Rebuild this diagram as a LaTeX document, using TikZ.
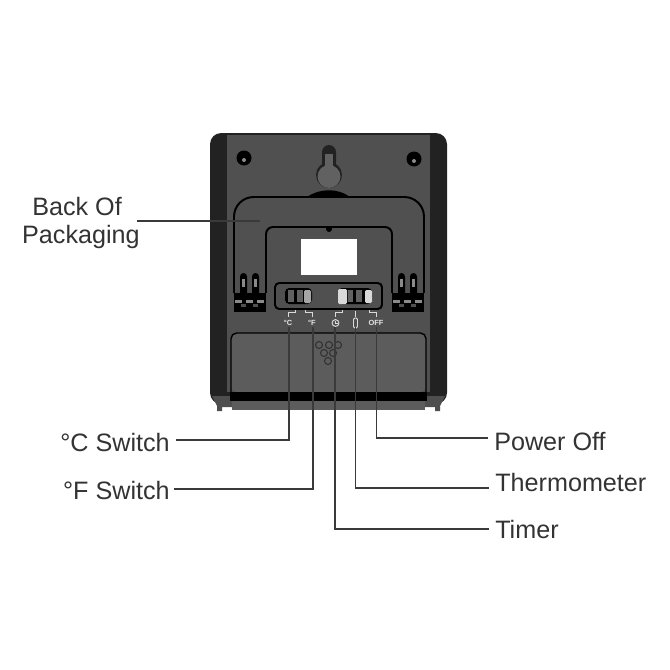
\documentclass[tikz,border=0pt]{standalone}
\usepackage{fontspec}
\setmainfont{Liberation Sans}
\usetikzlibrary{arrows,positioning}

\definecolor{casedark}{HTML}{222222}
\definecolor{casegrey}{HTML}{505050}
\definecolor{doorgrey}{HTML}{5C5C5C}
\definecolor{slotgrey}{HTML}{8A8A8A}
\definecolor{linegrey}{HTML}{3A3A3A}
\definecolor{textgrey}{HTML}{333333}

\tikzset{
  callout/.style={draw=linegrey,line width=1.4pt},
  caption/.style={font=\fontsize{17.9}{19.8}\selectfont,text=textgrey,inner sep=0pt,align=center},
  standedge/.style={draw=black,line width=1.4pt},
  printmark/.style={draw=white!85!black,line width=0.6pt},
  tinytext/.style={font=\bfseries\fontsize{5.3}{6}\selectfont,text=white!90!black,inner sep=0pt},
}

\begin{document}
\begin{tikzpicture}[x=0.025cm,y=-0.025cm]

\useasboundingbox (0,0) rectangle (670,670);

% case
\fill[casedark,rounded corners=8] (210,133) rectangle (447,404);
\fill[casedark!80!white] (212,396) -- (217,406) -- (217,411) -- (222,411) -- (222,407) -- (232,407) -- (232,396) -- cycle;
\fill[casedark!80!white] (445,396) -- (440,406) -- (440,411) -- (435,411) -- (435,407) -- (425,407) -- (425,396) -- cycle;
\fill[casegrey] (227,135) rectangle (430,392);

% screws
\fill[black] (244,158) circle (7.5);
\fill[black] (414,159) circle (7.5);
\fill[slotgrey] (244,160) circle (2);
\fill[slotgrey] (414,161) circle (2);

% keyhole
\fill[casedark,rounded corners=5] (322,170) rectangle (336,145);
\fill[casedark] (329,175) circle (13);
\fill[casegrey!90!white] (329,176.5) circle (11.5);
\fill[casegrey!90!white] (325,154) rectangle (333,170);

% stand
\fill[black] (307,197) .. controls (320,188) and (338,188) .. (350,197) -- cycle;
\draw[standedge,rounded corners=14] (234,272) -- (234,197) -- (424,197) -- (424,272);
\draw[standedge,rounded corners=5] (266,278) -- (266,227) -- (392,227) -- (392,278);
\fill[black] (329,229) circle (3);

% window
\fill[white] (301,239) rectangle (357,275);

% latches
\foreach \lx in {234,392}{
  \fill[black] (\lx,293) rectangle (\lx+32,312);
  \draw[standedge] (\lx,270) -- (\lx,293);
  \draw[standedge] (\lx+32,270) -- (\lx+32,293);
  \fill[black,rounded corners=2.5] (\lx+6,273) rectangle (\lx+13,296);
  \fill[black,rounded corners=2.5] (\lx+18,273) rectangle (\lx+25,296);
  \fill[slotgrey] (\lx+8,279) rectangle (\lx+11,287);
  \fill[slotgrey] (\lx+20,279) rectangle (\lx+23,287);
  \fill[slotgrey] (\lx+1,300) rectangle (\lx+8,303);
  \fill[slotgrey] (\lx+12,300) rectangle (\lx+19,303);
  \fill[slotgrey] (\lx+23,300) rectangle (\lx+30,303);
  \fill[casegrey] (\lx+7,304) rectangle (\lx+12,307);
  \fill[casegrey] (\lx+19,304) rectangle (\lx+24,307);
}

% switches
\draw[black,line width=1.4pt,rounded corners=3] (275,283) rectangle (382,309);
\fill[black,rounded corners=3] (285,288) rectangle (312,304);
\fill[casegrey!90] (288,290) rectangle (294,302);
\fill[casegrey!90] (297,290) rectangle (303,302);
\fill[white!65!black,rounded corners=1] (304,290) rectangle (311,303);
\fill[black,rounded corners=3] (338,288) rectangle (372,304);
\fill[white!85!black,rounded corners=1] (338,289) rectangle (347,304);
\fill[casegrey!90] (348,290) rectangle (353,302);
\fill[casegrey!90] (356,290) rectangle (362,302);
\fill[white!85!black,rounded corners=1] (365,290) rectangle (372,303);

% small marks
\draw[printmark] (295,310) -- (295,312.5) -- (288,312.5) -- (288,317);
\draw[printmark] (305,310) -- (305,312.5) -- (312,312.5) -- (312,317);
\draw[printmark] (342,310) -- (342,312.5) -- (335,312.5) -- (335,317);
\draw[printmark] (355,311) -- (355,317);
\draw[printmark] (369,310) -- (369,312.5) -- (376,312.5) -- (376,317);
\node[tinytext] (markc) at (288,323) {°C};
\node[tinytext] (markf) at (312,323) {°F};
\draw[printmark,line width=0.7pt] (335.5,323) circle (3.4);
\draw[printmark] (335.5,321) -- (335.5,323) -- (338,323);
\draw[printmark,line width=0.7pt,rounded corners=1] (353.5,318) rectangle (357.5,328);
\node[tinytext] (markoff) at (376,323) {OFF};

% door
\fill[doorgrey,rounded corners=4] (231,392) -- (231,333) -- (426,333) -- (426,392) -- cycle;
\draw[black,line width=1pt,rounded corners=4] (231,392) -- (231,333) -- (426,333) -- (426,392);
\foreach \cx/\cy in {319/345,329/345,338/345,324/353,333/353,328/361}{
  \draw[black!80,line width=0.8pt] (\cx,\cy) circle (3.5);
}

% bottom bar
\fill[black] (230,392) rectangle (427,401);
\fill[doorgrey] (232,401) rectangle (425,410);

% labels
\node[caption,anchor=east] (back) at (140,223) {Back Of\hspace*{5.5pt}\\Packaging};
\node[caption,anchor=east] (cswitch) at (170,442) {°C Switch};
\node[caption,anchor=east] (fswitch) at (170,490) {°F Switch};
\node[caption,anchor=west] (off) at (494,442) {Power Off};
\node[caption,anchor=west] (thermo) at (495,482) {Thermometer};
\node[caption,anchor=west] (timer) at (495,529) {Timer};

\coordinate (backstart) at (137,221);
\coordinate (backend) at (260,221);
\coordinate (cstart) at (176,440);
\coordinate (cend) at (289,327);
\coordinate (fstart) at (174,489);
\coordinate (fend) at (313,327);
\coordinate (timerstart) at (489,529);
\coordinate (timerend) at (335,327);
\coordinate (thermostart) at (489,488);
\coordinate (thermoend) at (355.5,327);
\coordinate (offstart) at (488,438);
\coordinate (offend) at (376.5,327);

% callouts
\draw[callout] (backstart) -- (backend);
\draw[callout] (cstart) -| (cend);
\draw[callout] (fstart) -| (fend);
\draw[callout] (timerstart) -| (timerend);
\draw[callout] (thermostart) -| (thermoend);
\draw[callout] (offstart) -| (offend);

\end{tikzpicture}
\end{document}
